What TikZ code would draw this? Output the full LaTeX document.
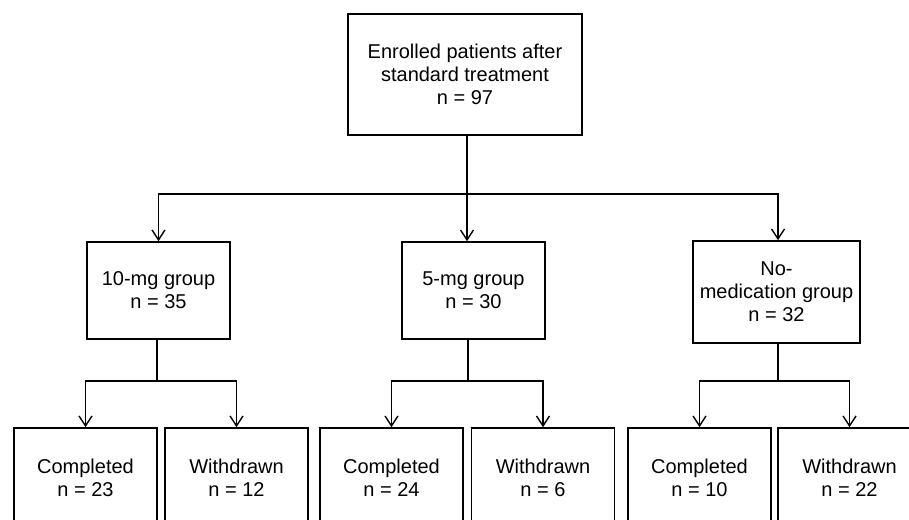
\documentclass[tikz,border=0pt]{standalone}
\usepackage{fontspec}
\setmainfont{Liberation Sans}
\usetikzlibrary{arrows.meta}
\newlength{\du}
\setlength{\du}{1pt}
\tikzset{
  box/.style={draw, line width=1.6\du, align=center, inner sep=0pt,
    font=\fontsize{20}{23}\selectfont},
  groupbox/.style={box, minimum width=143\du, minimum height=97\du},
  endbox/.style={box, minimum width=143\du, minimum height=100\du},
  link/.style={line width=1.4\du},
  arrow/.style={link, -{Straight Barb[length=10pt,width=13pt]}},
}

\begin{document}
\begin{tikzpicture}[yscale=-1]
\useasboundingbox (0\du,0\du) rectangle (909\du,519\du);
\clip (0\du,0\du) rectangle (909\du,519\du);
% enrolled
\node[box, minimum width=234\du, minimum height=121\du] (enrolled) at (465\du,74.5\du)
  {Enrolled patients after\\standard treatment\\n = 97};
% groups
\node[groupbox] (g10) at (158.5\du,290.5\du) {10-mg group\\n = 35};
\node[groupbox] (g5) at (473.5\du,290.5\du) {5-mg group\\n = 30};
\node[box, minimum width=167\du, minimum height=102\du] (g0) at (776.5\du,292\du)
  {No-\\medication group\\n = 32};
% outcomes
\node[endbox] (c10) at (85.5\du,478\du) {Completed\\n = 23};
\node[endbox] (w10) at (236.5\du,478\du) {Withdrawn\\n = 12};
\node[endbox] (c5) at (391.5\du,478\du) {Completed\\n = 24};
\node[endbox] (w5) at (543\du,478\du) {Withdrawn\\n = 6};
\node[endbox] (c0) at (699.5\du,478\du) {Completed\\n = 10};
\node[endbox] (w0) at (849.5\du,478\du) {Withdrawn\\n = 22};
% split points
\coordinate (split) at (467\du,194\du);
\coordinate (s10) at (157\du,381\du);
\coordinate (s5) at (468\du,381\du);
\coordinate (s0) at (778\du,381\du);
% connectors
\draw[link] (enrolled.south -| split) -- (split);
\draw[arrow] (split) -- (g5.north -| split);
\draw[arrow] (split) -| (g10.north);
\draw[arrow] (split) -| (g0.north -| s0);
\draw[link] (g10.south -| s10) -- (s10);
\draw[arrow] (s10) -| (c10.north);
\draw[arrow] (s10) -| (w10.north);
\draw[link] (g5.south -| s5) -- (s5);
\draw[arrow] (s5) -| (c5.north);
\draw[arrow] (s5) -| (w5.north);
\draw[link] (g0.south -| s0) -- (s0);
\draw[arrow] (s0) -| (c0.north);
\draw[arrow] (s0) -| (w0.north);
\end{tikzpicture}
\end{document}
